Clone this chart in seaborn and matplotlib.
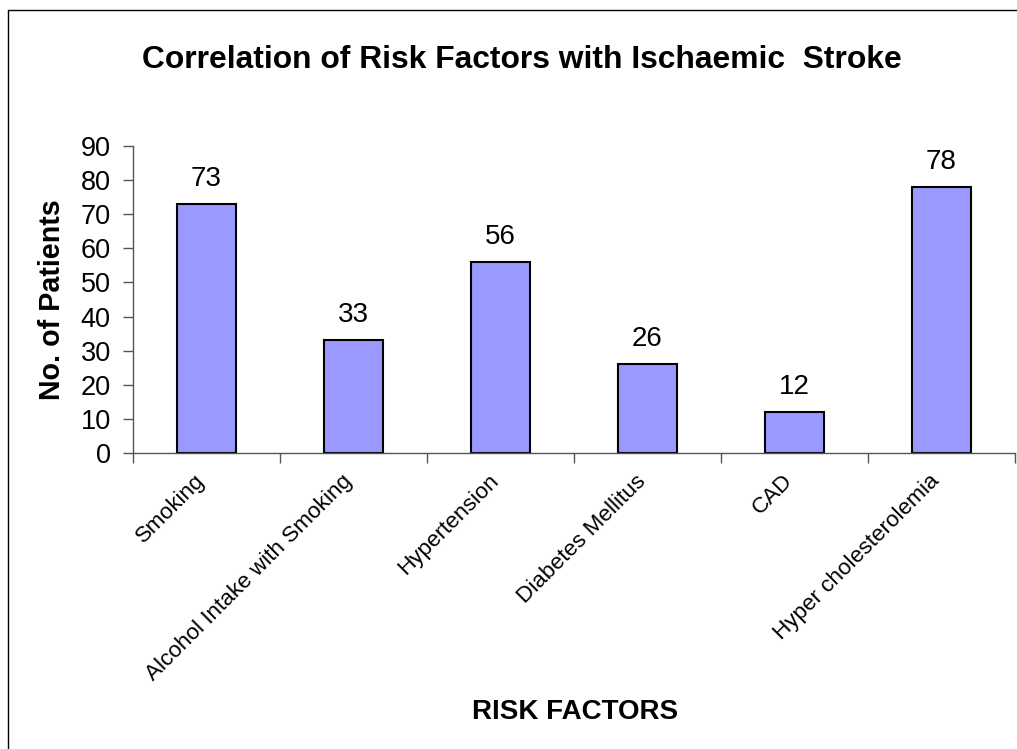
import matplotlib
matplotlib.use("Agg")
import matplotlib.pyplot as plt
import matplotlib.transforms as mtransforms
import pandas as pd
import seaborn as sns

# Chart data
risk_factors = [
	"Smoking",
	"Alcohol Intake with Smoking",
	"Hypertension",
	"Diabetes Mellitus",
	"CAD",
	"Hyper cholesterolemia",
]
patients = [73, 33, 56, 26, 12, 78]
y_ticks = [0, 10, 20, 30, 40, 50, 60, 70, 80, 90]

sns.set_theme(style="white")
plt.rcParams["font.family"] = ["Liberation Sans", "DejaVu Sans"]
plt.rcParams["text.color"] = "black"
plt.rcParams["axes.labelcolor"] = "black"
plt.rcParams["xtick.color"] = "black"
plt.rcParams["ytick.color"] = "black"

df = pd.DataFrame({"factor": risk_factors, "patients": patients})

fig = plt.figure(figsize=(10.17, 7.49), dpi=100)
ax = fig.add_axes([0.1308, 0.3952, 0.8672, 0.4099])

sns.barplot(
	data=df,
	x="factor",
	y="patients",
	color="#9999FF",
	saturation=1,
	width=0.4,
	edgecolor="black",
	linewidth=1.5,
	ax=ax,
)

ax.set_xlim(-0.5, len(risk_factors) - 0.5)
ax.set_ylim(0, 90)
ax.set_yticks(y_ticks)
ax.tick_params(axis="y", labelsize=19.5, length=7, width=1, color="#555555", direction="out", left=True, pad=9)

# Category labels near bar centres, ticks between categories
ax.set_xticks(range(len(risk_factors)))
ax.set_xticklabels(risk_factors, rotation=45, ha="right", va="center", rotation_mode="anchor", fontsize=16.2)
ax.tick_params(axis="x", length=0, pad=18)
ax.set_xticks([i - 0.5 for i in range(len(risk_factors) + 1)], minor=True)
ax.tick_params(axis="x", which="minor", length=7, width=1, color="#555555", direction="out", bottom=True)
shift = mtransforms.ScaledTranslation(-5 / 100, 0, fig.dpi_scale_trans)
for lbl in ax.get_xticklabels():
	lbl.set_transform(lbl.get_transform() + shift)

for side in ["top", "right"]:
	ax.spines[side].set_visible(False)
for side in ["left", "bottom"]:
	ax.spines[side].set_color("#555555")
	ax.spines[side].set_linewidth(1)

# Value labels above bars
for i, v in enumerate(patients):
	ax.text(i, v + 3.6, str(v), ha="center", va="bottom", fontsize=20)

ax.set_xlabel("")
ax.set_ylabel("No. of Patients", fontsize=20.6, fontweight="bold")
ax.yaxis.label.set_verticalalignment("center")
ax.yaxis.set_label_coords(-0.0918, 0.5)

fig.text(0.565, 0.049, "RISK FACTORS", ha="center", va="center", fontsize=20, fontweight="bold")
fig.text(0.513, 0.920, "Correlation of Risk Factors with Ischaemic  Stroke", ha="center", va="center",
	fontsize=22.9, fontweight="bold")

# Partial frame around the chart area (top and left edges)
fig.add_artist(plt.Line2D([0.008, 1.0], [0.987, 0.987], color="black", linewidth=1, transform=fig.transFigure))
fig.add_artist(plt.Line2D([0.008, 0.008], [0.0, 0.987], color="black", linewidth=1, transform=fig.transFigure))

fig.savefig("out.png", dpi=100)
